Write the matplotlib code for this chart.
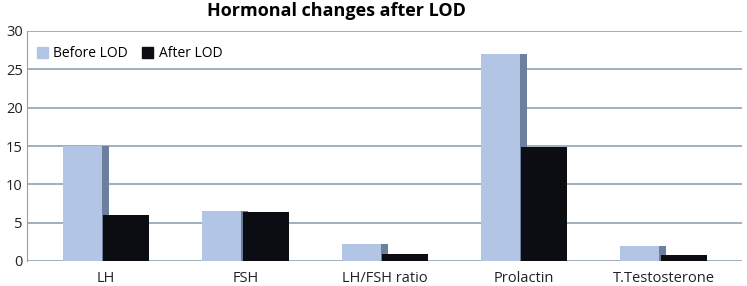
import matplotlib
matplotlib.use("Agg")
import matplotlib.pyplot as plt
import numpy as np
from matplotlib.patches import Patch

categories = ["LH", "FSH", "LH/FSH ratio", "Prolactin", "T.Testosterone"]
before_lod = [15.0, 6.55, 2.2, 27.0, 1.95]
after_lod = [6.0, 6.4, 0.9, 14.9, 0.8]

plt.rcParams["font.family"] = ["Open Sans", "DejaVu Sans"]

fig = plt.figure(figsize=(7.47, 2.86), dpi=100)
ax = fig.add_axes([27 / 747, 25 / 286, 715 / 747, 230 / 286])

x = np.arange(len(categories))
grid_col = "#8ea2b6"

ax.set_ylim(0, 30)
ax.set_xlim(-0.567, 4.562)
ax.set_yticks(range(0, 31, 5))
ax.yaxis.grid(True, color=grid_col, lw=1.2)
ax.set_axisbelow(True)

# before bars with a darker 3D side strip, then after bars on top
ax.bar(x - 0.31, before_lod, width=0.28, align="edge", color="#b3c5e4", zorder=2)
ax.bar(x - 0.03, before_lod, width=0.05, align="edge", color="#6c7f9c", zorder=2)
ax.bar(x - 0.02, after_lod, width=0.33, align="edge", color="#0c0d12", zorder=3)

for s in ["top", "right", "bottom"]:
    ax.spines[s].set_visible(False)
ax.spines["left"].set_color(grid_col)
ax.tick_params(axis="both", length=0, labelsize=10.5, colors="#222222")
ax.tick_params(axis="y", pad=3)
ax.tick_params(axis="x", pad=7)
ax.set_xticks(x)
ax.set_xticklabels(categories)

fig.text(0.451, 0.962, "Hormonal changes after LOD", ha="center", va="center",
         fontsize=13, fontweight="bold")

handles = [Patch(color="#b3c5e4", label="Before LOD"),
           Patch(color="#0c0d12", label="After LOD")]
ax.legend(handles=handles, loc="upper left", bbox_to_anchor=(0.0, 0.975), ncol=2,
          frameon=False, fontsize=10, handlelength=0.8, handleheight=0.8,
          handletextpad=0.4, columnspacing=1.0, borderaxespad=0.3)

fig.savefig("out.png", dpi=100)
